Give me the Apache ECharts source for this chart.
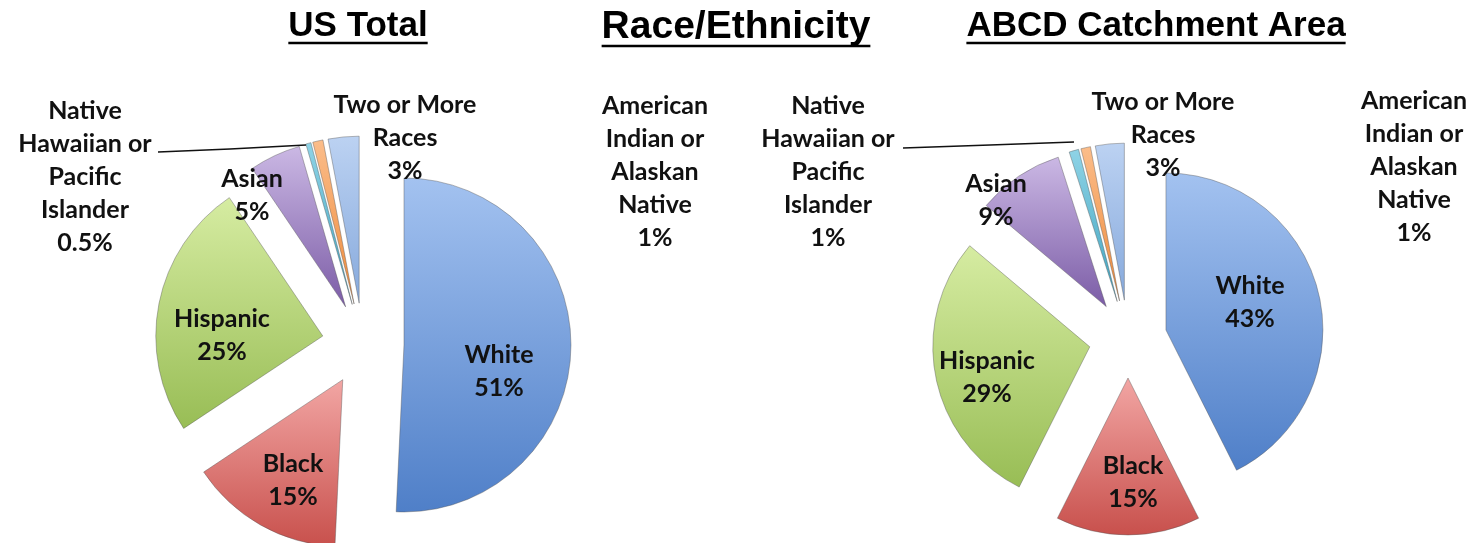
<!DOCTYPE html>
<html>
<head>
<meta charset="utf-8">
<script src="https://cdn.jsdelivr.net/npm/echarts@6/dist/echarts.min.js"></script>
<style>
  html, body { margin: 0; padding: 0; background: #fff; }
  #chart { width: 1476px; height: 543px; }
</style>
</head>
<body>
<div id="chart"></div>
<script>
// data
const categories = ['White', 'Black', 'Hispanic', 'Asian',
  'Native Hawaiian or Pacific Islander', 'American Indian or Alaskan Native', 'Two or More Races']
const labelNames = ['White', 'Black', 'Hispanic', 'Asian',
  'Native\nHawaiian or\nPacific\nIslander', 'American\nIndian or\nAlaskan\nNative', 'Two or More\nRaces']
const usTotal = [51, 15, 25, 5, 0.5, 1, 3]
const catchment = [43, 15, 29, 9, 1, 1, 3]
const titles = ['US Total', 'Race/Ethnicity', 'ABCD Catchment Area']

// slice colours (top light -> bottom dark)
const colors = [
  ['#a3c2f0', '#4f7fc8'],
  ['#f2a6a4', '#c8504c'],
  ['#d6eca2', '#98bd55'],
  ['#cbb8e4', '#7b5ca6'],
  ['#8fd3e6', '#3fa3bf'],
  ['#fbbd8a', '#ee8a3a'],
  ['#bcd2f2', '#86a9dc']
]

// label layout (block centers), leader line for the Hawaiian label
const leftLabelPos = [[499, 371], [293, 480], [222, 335], [252, 195], [85, 177], [655, 172], [405, 138]]
const rightLabelPos = [[1250, 302], [1133, 482], [987, 377], [996, 200], [828, 172], [1414, 167], [1163, 135]]
const leftLeader = [[158, 152], [230, 149], [306, 145]]
const rightLeader = [[903, 148], [990, 145], [1074, 142]]

const labelFont = 'Lato'
const titleFont = 'Liberation Sans'

function fmtPct(v) {
  return v + '%'
}

// exploded slices, no labels
function pieSeries(values, center, radius, offset) {
  return {
    type: 'pie',
    z: 2,
    center,
    radius,
    startAngle: 90,
    clockwise: true,
    selectedMode: 'multiple',
    selectedOffset: offset,
    silent: true,
    itemStyle: { borderColor: 'rgba(80,80,80,0.4)', borderWidth: 1 },
    select: { itemStyle: { borderColor: 'rgba(80,80,80,0.4)', borderWidth: 1 } },
    label: { show: false },
    labelLine: { show: false },
    data: categories.map((name, i) => ({
      name,
      value: values[i],
      selected: true,
      itemStyle: {
        color: {
          type: 'linear', x: 0, y: 0, x2: 0, y2: 1,
          colorStops: [
            { offset: 0, color: colors[i][0] },
            { offset: 1, color: colors[i][1] }
          ]
        }
      }
    }))
  }
}

// transparent copy of the same pie that only carries the labels
function labelSeries(values, center, radius, labelPos, leader) {
  return {
    type: 'pie',
    z: 10,
    center,
    radius,
    startAngle: 90,
    clockwise: true,
    silent: true,
    avoidLabelOverlap: false,
    itemStyle: { color: 'rgba(0,0,0,0)', borderWidth: 0 },
    label: {
      show: true,
      position: 'outside',
      formatter: p => labelNames[p.dataIndex] + '\n' + fmtPct(p.value),
      fontFamily: labelFont,
      fontWeight: 'bold',
      fontSize: 25,
      lineHeight: 33,
      color: '#111',
      align: 'center'
    },
    labelLine: { show: false, lineStyle: { color: '#111', width: 1.5 } },
    labelLayout: params => {
      const i = params.dataIndex
      const res = {
        x: labelPos[i][0],
        y: labelPos[i][1],
        align: 'center',
        verticalAlign: 'middle'
      }
      if (i === 4) res.labelLinePoints = leader
      return res
    },
    data: categories.map((name, i) => ({
      name,
      value: values[i],
      labelLine: { show: i === 4 }
    }))
  }
}

// title underlines measured with canvas
const ctx = document.createElement('canvas').getContext('2d')
const titleCfg = [
  { x: 358, y: 26, size: 35, lineY: 43 },
  { x: 736, y: 27, size: 39, lineY: 46 },
  { x: 1156, y: 26, size: 35, lineY: 43 }
]
const graphics = []
titles.forEach((t, i) => {
  const c = titleCfg[i]
  const font = 'bold ' + c.size + 'px "' + titleFont + '"'
  ctx.font = font
  const w = ctx.measureText(t).width
  graphics.push({
    type: 'text',
    x: c.x, y: c.y,
    style: { text: t, font, fill: '#000', align: 'center', verticalAlign: 'middle' }
  })
  graphics.push({
    type: 'line',
    shape: { x1: c.x - w / 2, y1: c.lineY, x2: c.x + w / 2, y2: c.lineY },
    style: { stroke: '#000', lineWidth: 2.5 }
  })
})

const chart = echarts.init(document.getElementById('chart'))
chart.setOption({
  backgroundColor: '#fff',
  animation: false,
  graphic: graphics,
  series: [
    pieSeries(usTotal, [363, 344], 167, 41),
    pieSeries(catchment, [1128, 339], 157, 39),
    labelSeries(usTotal, [363, 344], 167, leftLabelPos, leftLeader),
    labelSeries(catchment, [1128, 339], 157, rightLabelPos, rightLeader)
  ]
})
</script>
</body>
</html>
